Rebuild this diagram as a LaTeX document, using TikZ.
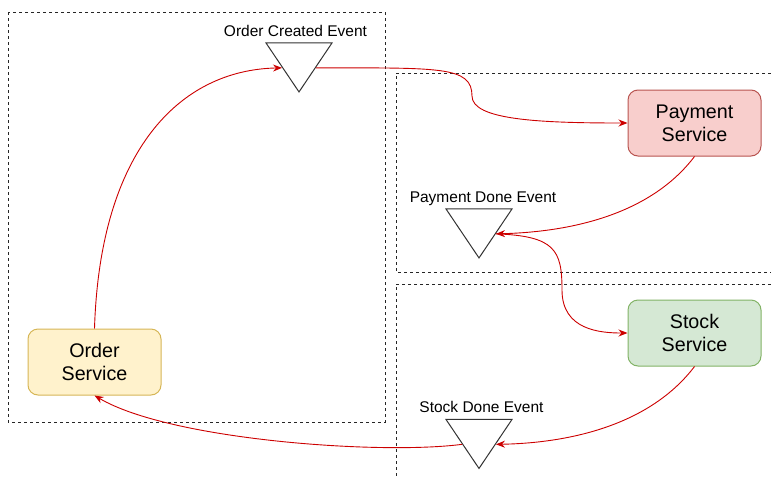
\documentclass[tikz,border=0pt]{standalone}
\usepackage{fontspec}
\setmainfont{Liberation Sans}
\usetikzlibrary{arrows.meta,positioning,shapes.geometric}
\definecolor{flowred}{RGB}{204,0,0}
\definecolor{orderfill}{HTML}{FFF2CC}
\definecolor{orderline}{HTML}{D6B656}
\definecolor{payfill}{HTML}{F8CECC}
\definecolor{payline}{HTML}{B85450}
\definecolor{stockfill}{HTML}{D5E8D4}
\definecolor{stockline}{HTML}{82B366}
\tikzset{%
  >={Stealth[width=7pt,length=9pt]},
  % Specifications for style of nodes:
            base/.style = {rectangle, rounded corners=10pt, line width=1pt,
                           minimum width=133pt, minimum height=66pt,
                           text centered, align=center,
                           font=\fontsize{19.7}{23}\selectfont},
      orderbox/.style = {base, draw=orderline, fill=orderfill},
    paymentbox/.style = {base, draw=payline, fill=payfill},
      stockbox/.style = {base, draw=stockline, fill=stockfill},
         event/.style = {isosceles triangle, isosceles triangle stretches,
                         shape border rotate=270, draw=black!80, line width=1pt,
                         minimum width=66pt, minimum height=49pt, inner sep=0pt},
    eventlabel/.style = {font=\fontsize{15.5}{18}\selectfont, inner sep=0pt,
                         text depth=0pt},
          zone/.style = {draw=black!85, dash pattern=on 3pt off 3pt, line width=0.8pt},
          flow/.style = {->, draw=flowred, line width=0.9pt},
}

\begin{document}
\begin{tikzpicture}[x=1pt, y=-1pt]
  \useasboundingbox (0,0) rectangle (771,477);
  % Dashed areas
  \draw[zone] (8,12) rectangle (385,422);
  \draw[zone] (771,73) -- (396,73) -- (396,272) -- (771,272);
  \draw[zone] (771,284) -- (396,284) -- (396,477);

  % Specification of nodes (position, etc.)
  \node (order)       [orderbox]   at (94.5,362)  {Order\\Service};
  \node (payment)     [paymentbox] at (694.5,123) {Payment\\Service};
  \node (stock)       [stockbox]   at (694.5,333) {Stock\\Service};
  \node (created)     [event]      at (299,60.5)  {};
  \node (paydone)     [event]      at (479,226.5) {};
  \node (stockdone)   [event]      at (479,437)   {};
  \node (createdtxt)  [eventlabel, above=6pt of created, xshift=-3.5pt] {Order Created Event};
  \node (paydonetxt)  [eventlabel, above=6pt of paydone, xshift=4pt]    {Payment Done Event};
  \node (stockdonetxt)[eventlabel, above=6pt of stockdone, xshift=2.5pt] {Stock Done Event};

  \draw[flow]         (order.north) .. controls (100,150) and (180,70) .. (created.right side);
  \draw[flow]         (created.left side) .. controls (440,68) and (472,66) .. (472,96)
                      .. controls (472,120) and (540,123) .. (payment.west);
  \draw[flow]         (payment.south) .. controls (650,215) and (570,232) .. (paydone.left side);
  \draw[flow]         (paydone.left side) .. controls (555,236) and (562,250) .. (562,290)
                      .. controls (562,330) and (600,333) .. (stock.west);
  \draw[flow]         (stock.south) .. controls (650,425) and (570,443) .. (stockdone.left side);
  \draw[flow]         (stockdone.right side) .. controls (380,455) and (170,440) .. (order.south);

\end{tikzpicture}
\end{document}
